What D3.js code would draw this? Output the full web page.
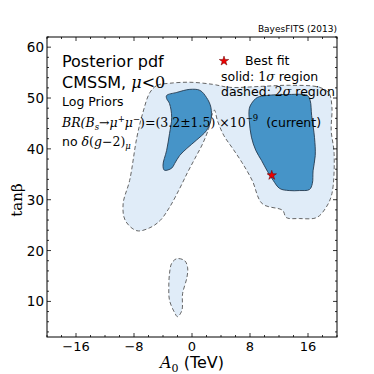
<!DOCTYPE html>
<html>
<head>
<meta charset="utf-8">
<script src="https://cdn.jsdelivr.net/npm/d3@7"></script>
<style>
  html, body { margin: 0; padding: 0; background: #fff; }
  svg { display: block; }
  .sans { font-family: "DejaVu Sans", sans-serif; }
  .math { font-family: "DejaVu Serif", serif; font-style: italic; }
</style>
</head>
<body>
<svg id="chart" width="374" height="374"></svg>
<script>
(function () {
    'use strict';

    // A0 (TeV), tan(beta) outlines
    const outer2Sigma = [
        [-5.8, 51.1], [-4.8, 52.5], [-3.1, 52.9], [-0.3, 53.1], [2.8, 52.7], [5.2, 52.1],
        [9.7, 52.3], [13.4, 52.5], [17.6, 52.1], [18.9, 50.9], [19.3, 48.2], [19.2, 43.6],
        [19.6, 39.1], [19.3, 31.2], [18.5, 28.5], [17.2, 26.5], [14.8, 26.3], [13.0, 26.5],
        [12.5, 27.9], [9.7, 29.2], [8.3, 33.8], [6.9, 37.3], [5.6, 40.1], [4.4, 42.6],
        [3.5, 45.6], [3.1, 47.6], [2.6, 46.0], [2.3, 44.0], [1.5, 41.1], [0.4, 38.1],
        [-0.6, 35.4], [-1.7, 32.2], [-3.1, 28.5], [-4.4, 25.9], [-5.8, 24.5], [-7.6, 23.9],
        [-9.2, 25.9], [-9.5, 29.2], [-8.6, 33.8], [-7.6, 42.3], [-6.8, 47.0]
    ];
    const island2Sigma = [
        [-2.1, 18.4], [-1.0, 18.0], [-0.6, 16.6], [-0.7, 14.7], [-1.3, 11.5], [-1.4, 8.2],
        [-2.0, 7.0], [-2.4, 7.8], [-3.1, 10.2], [-3.2, 12.7], [-3.1, 15.5], [-2.8, 17.5]
    ];
    const left1Sigma = [
        [-3.5, 50.5], [-2.1, 51.1], [-0.3, 51.7], [1.1, 51.5], [2.0, 50.1], [2.6, 48.2],
        [2.6, 45.6], [2.0, 43.6], [0.6, 41.7], [-0.7, 40.1], [-1.7, 38.7], [-2.4, 37.1],
        [-2.8, 36.2], [-3.8, 35.8], [-4.0, 36.8], [-3.5, 39.7], [-3.1, 43.0], [-2.8, 46.2],
        [-3.1, 48.9], [-3.5, 49.9]
    ];
    const right1Sigma = [
        [8.2, 48.9], [9.0, 50.1], [10.3, 50.5], [13.4, 50.7], [15.9, 50.5], [16.3, 49.5],
        [16.5, 46.6], [16.9, 42.2], [17.0, 38.7], [16.7, 35.7], [16.6, 33.2], [16.2, 32.0],
        [14.8, 31.8], [13.4, 31.8], [12.1, 32.2], [11.2, 33.8], [10.4, 35.6], [9.6, 37.7],
        [8.8, 39.7], [8.2, 42.3], [7.9, 45.6], [7.9, 47.9]
    ];
    const bestFit = [11.0, 34.8];

    const xTicks = [-16, -8, 0, 8, 16];
    const yTicks = [10, 20, 30, 40, 50, 60];

    const LEFT = 47, RIGHT = 337, TOP = 37, BOTTOM = 337;

    let svg = d3.select('#chart');
    let x = d3.scaleLinear().domain([-20, 20]).range([LEFT, RIGHT]);
    let y = d3.scaleLinear().domain([3, 62]).range([BOTTOM, TOP]);

    let line = d3.line()
        .x(d => x(d[0]))
        .y(d => y(d[1]))
        .curve(d3.curveCatmullRomClosed.alpha(0.5));

    let plot = svg.append('g');
    plot.append('clipPath').attr('id', 'clip')
        .append('rect').attr('x', LEFT).attr('y', TOP)
        .attr('width', RIGHT - LEFT).attr('height', BOTTOM - TOP);
    let area = plot.append('g').attr('clip-path', 'url(#clip)');

    [outer2Sigma, island2Sigma].forEach(poly => {
        area.append('path')
            .attr('d', line(poly))
            .attr('fill', '#e0ecf8')
            .attr('stroke', '#555')
            .attr('stroke-width', 0.9)
            .attr('stroke-dasharray', '4,2.5');
    });
    [left1Sigma, right1Sigma].forEach(poly => {
        area.append('path')
            .attr('d', line(poly))
            .attr('fill', '#4694c8')
            .attr('stroke', '#253a4f')
            .attr('stroke-width', 0.9);
    });

    let star = d3.symbol().type(d3.symbolStar).size(28);
    area.append('path')
        .attr('d', star())
        .attr('transform', `translate(${x(bestFit[0])},${y(bestFit[1])})`)
        .attr('fill', '#e00')
        .attr('stroke', '#600')
        .attr('stroke-width', 0.5);

    // frame and inward ticks on all sides
    let xMinor = d3.range(-20, 20.1, 2).filter(v => !xTicks.includes(v));
    let yMinor = d3.range(4, 62.1, 2).filter(v => !yTicks.includes(v));
    let ticks = svg.append('g').attr('stroke', '#000').attr('stroke-width', 0.8);
    function tick(x1, y1, x2, y2) {
        ticks.append('line').attr('x1', x1).attr('y1', y1).attr('x2', x2).attr('y2', y2);
    }
    xTicks.forEach(v => { tick(x(v), BOTTOM, x(v), BOTTOM - 4); tick(x(v), TOP, x(v), TOP + 4); });
    xMinor.forEach(v => { tick(x(v), BOTTOM, x(v), BOTTOM - 2); tick(x(v), TOP, x(v), TOP + 2); });
    yTicks.forEach(v => { tick(LEFT, y(v), LEFT + 4, y(v)); tick(RIGHT, y(v), RIGHT - 4, y(v)); });
    yMinor.forEach(v => { tick(LEFT, y(v), LEFT + 2, y(v)); tick(RIGHT, y(v), RIGHT - 2, y(v)); });

    svg.append('rect')
        .attr('x', LEFT).attr('y', TOP)
        .attr('width', RIGHT - LEFT).attr('height', BOTTOM - TOP)
        .attr('fill', 'none').attr('stroke', '#000').attr('stroke-width', 1);

    let fmt = v => v < 0 ? '\u2212' + Math.abs(v) : String(v);
    svg.append('g').selectAll('text').data(xTicks).join('text')
        .attr('class', 'sans').attr('font-size', 13)
        .attr('x', d => x(d)).attr('y', 351)
        .attr('text-anchor', 'middle')
        .text(fmt);
    svg.append('g').selectAll('text').data(yTicks).join('text')
        .attr('class', 'sans').attr('font-size', 13.5)
        .attr('x', LEFT - 3).attr('y', d => y(d) + 5)
        .attr('text-anchor', 'end')
        .text(fmt);

    // axis titles
    let xl = svg.append('text').attr('x', 192).attr('y', 368)
        .attr('text-anchor', 'middle').attr('font-size', 16);
    xl.append('tspan').attr('class', 'math').text('A');
    xl.append('tspan').attr('font-family', '"DejaVu Serif", serif')
        .attr('font-size', 11).attr('dy', 4).text('0');
    xl.append('tspan').attr('class', 'sans').attr('dy', -4).text(' (TeV)');

    svg.append('text')
        .attr('transform', 'translate(22,200) rotate(-90)')
        .attr('text-anchor', 'middle')
        .attr('font-family', '"DejaVu Serif", serif')
        .attr('font-size', 15)
        .text('tan\u03B2');

    svg.append('text').attr('class', 'sans').attr('font-size', 9)
        .attr('x', RIGHT).attr('y', 32).attr('text-anchor', 'end')
        .text('BayesFITS (2013)');

    // annotations
    svg.append('text').attr('class', 'sans').attr('font-size', 16)
        .attr('x', 62).attr('y', 67).text('Posterior pdf');
    let cm = svg.append('text').attr('class', 'sans').attr('font-size', 16)
        .attr('x', 62).attr('y', 88);
    cm.append('tspan').text('CMSSM, ');
    cm.append('tspan').attr('class', 'math').text('\u03BC');
    cm.append('tspan').attr('font-family', '"DejaVu Serif", serif').text('<0');
    svg.append('text').attr('class', 'sans').attr('font-size', 12.5)
        .attr('x', 62).attr('y', 106).text('Log Priors');

    let br = svg.append('text').attr('font-size', 12.5).attr('x', 62).attr('y', 127)
        .attr('font-family', '"DejaVu Serif", serif');
    br.append('tspan').attr('class', 'math').text('BR(B');
    br.append('tspan').attr('class', 'math').attr('font-size', 8.5).attr('dy', 3).text('s');
    br.append('tspan').attr('dy', -3).text('\u2192');
    br.append('tspan').attr('class', 'math').text('\u03BC');
    br.append('tspan').attr('font-size', 8.5).attr('dy', -5).text('+');
    br.append('tspan').attr('class', 'math').attr('dy', 5).text('\u03BC');
    br.append('tspan').attr('font-size', 8.5).attr('dy', -5).text('\u2212');
    br.append('tspan').attr('dy', 5).text(')=(3.2\u00B11.5)\u00A0\u00D710');
    br.append('tspan').attr('font-size', 8.5).attr('dy', -6).text('\u22129');
    br.append('tspan').attr('class', 'sans').attr('dy', 6).text('\u00A0 (current)');

    let g2 = svg.append('text').attr('font-size', 12.5).attr('x', 62).attr('y', 146);
    g2.append('tspan').attr('class', 'sans').text('no ');
    g2.append('tspan').attr('class', 'math').text('\u03B4');
    g2.append('tspan').attr('font-family', '"DejaVu Serif", serif').text('(');
    g2.append('tspan').attr('class', 'math').text('g');
    g2.append('tspan').attr('font-family', '"DejaVu Serif", serif').text('\u22122)');
    g2.append('tspan').attr('class', 'math').attr('font-size', 8.5).attr('dy', 3).text('\u03BC');

    // legend
    svg.append('path')
        .attr('d', star())
        .attr('transform', 'translate(224,61)')
        .attr('fill', '#e00').attr('stroke', '#600').attr('stroke-width', 0.5);
    svg.append('text').attr('class', 'sans').attr('font-size', 12.5)
        .attr('x', 245).attr('y', 65).text('Best fit');
    let l1 = svg.append('text').attr('font-size', 12.5).attr('x', 221).attr('y', 81);
    l1.append('tspan').attr('class', 'sans').text('solid: ');
    l1.append('tspan').attr('font-family', '"DejaVu Serif", serif').text('1');
    l1.append('tspan').attr('class', 'math').text('\u03C3');
    l1.append('tspan').attr('class', 'sans').text(' region');
    let l2 = svg.append('text').attr('font-size', 12.5).attr('x', 221).attr('y', 96);
    l2.append('tspan').attr('class', 'sans').text('dashed: ');
    l2.append('tspan').attr('font-family', '"DejaVu Serif", serif').text('2');
    l2.append('tspan').attr('class', 'math').text('\u03C3');
    l2.append('tspan').attr('class', 'sans').text(' region');
})();
</script>
</body>
</html>
